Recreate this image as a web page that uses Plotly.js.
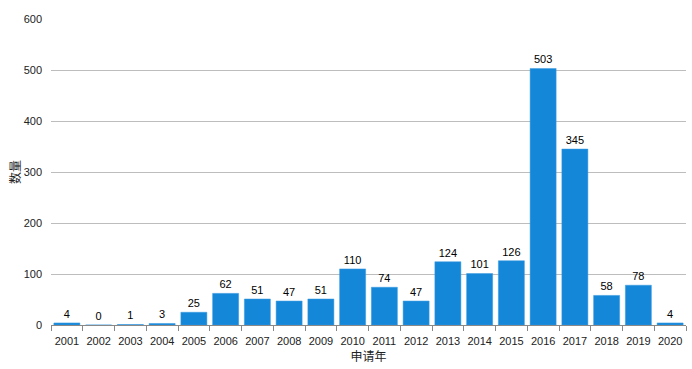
<!DOCTYPE html>
<html>
<head>
<meta charset="utf-8">
<script src="https://cdn.plot.ly/plotly-3.0.1.min.js"></script>
<style>html,body{margin:0;padding:0;background:#fff;}#chart{width:692px;height:369px;}</style>
</head>
<body>
<div id="chart"></div>
<script>
const years = ['2001','2002','2003','2004','2005','2006','2007','2008','2009','2010','2011','2012','2013','2014','2015','2016','2017','2018','2019','2020'];
const counts = [4,0,1,3,25,62,51,47,51,110,74,47,124,101,126,503,345,58,78,4];
const xTitle = '申请年';
const yTitle = '数量';

const trace = {
  type: 'bar',
  x: years,
  y: counts,
  text: counts.map(String),
  textposition: 'outside',
  textfont: {size: 11, color: '#000', family: 'Liberation Sans, Arial, sans-serif'},
  cliponaxis: false,
  marker: {color: '#1487d9', line: {color: '#3a9ae0', width: 0.5}},
  hoverinfo: 'x+y'
};

const layout = {
  width: 692, height: 369,
  margin: {l: 51, r: 6, t: 19, b: 44},
  paper_bgcolor: '#fff', plot_bgcolor: '#fff',
  bargap: 0.18,
  showlegend: false,
  font: {family: 'Liberation Sans, Arial, sans-serif', size: 11, color: '#222'},
  xaxis: {
    type: 'category',
    tickson: 'boundaries',
    tickangle: 0,
    ticks: 'outside', ticklen: 5, tickcolor: '#888', tickwidth: 1,
    ticklabelstandoff: 6,
    showline: true, linecolor: '#888', linewidth: 1,
    showgrid: false,
    tickfont: {size: 11, color: '#222'},
    title: {text: xTitle, font: {size: 12, color: '#222', family: 'Noto Sans CJK SC, sans-serif'}, standoff: 1}
  },
  yaxis: {
    range: [0, 600], dtick: 100, tick0: 0,
    showgrid: true, gridcolor: '#bdbdbd', gridwidth: 1,
    zeroline: false, showline: false,
    ticks: '', ticklabelstandoff: 8,
    tickfont: {size: 11, color: '#222'},
    title: {text: yTitle, font: {size: 12, color: '#222', family: 'Noto Sans CJK SC, sans-serif'}, standoff: 0}
  }
};

Plotly.newPlot('chart', [trace], layout, {displayModeBar: false, staticPlot: true});
</script>
</body>
</html>
